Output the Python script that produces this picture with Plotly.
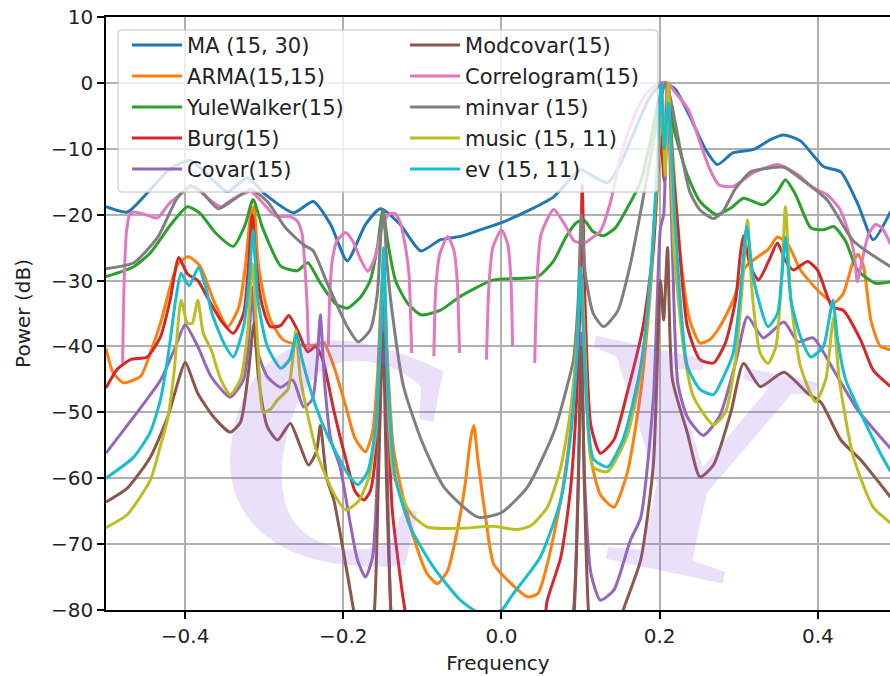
import plotly.graph_objects as go

# ---- spectral estimates: (normalised frequency, power in dB) ----
ma_spec = [(-0.500, -18.8), (-0.473, -19.6), (-0.444, -16.2), (-0.418, -12.9), (-0.393, -11.8),
           (-0.368, -14.4), (-0.346, -16.5), (-0.321, -14.4), (-0.298, -17.0), (-0.263, -19.7),
           (-0.238, -18.0), (-0.216, -21.5), (-0.195, -27.0), (-0.172, -21.5), (-0.153, -19.1),
           (-0.128, -21.5), (-0.102, -25.5), (-0.077, -23.8), (-0.052, -23.3), (-0.027, -22.3),
           (0.000, -21.2), (0.037, -19.2), (0.066, -17.3), (0.100, -13.2), (0.119, -14.4),
           (0.134, -15.2), (0.150, -12.4), (0.169, -7.1), (0.186, -2.5), (0.198, -0.6),
           (0.207, 0.0), (0.220, -1.0), (0.239, -5.3), (0.258, -10.1), (0.273, -12.4),
           (0.293, -10.6), (0.319, -10.1), (0.340, -8.6), (0.357, -7.9), (0.378, -8.8),
           (0.407, -12.7), (0.429, -13.5), (0.451, -18.5), (0.470, -23.8), (0.492, -19.5)]

arma_spec = [(-0.500, -40.3), (-0.491, -44.0), (-0.478, -45.5), (-0.456, -44.5), (-0.444, -41.0),
             (-0.430, -36.0), (-0.419, -31.0), (-0.409, -27.5), (-0.396, -26.4), (-0.381, -27.8),
             (-0.364, -33.0), (-0.346, -37.0), (-0.332, -34.0), (-0.324, -28.0), (-0.317, -20.0),
             (-0.313, -18.8), (-0.308, -27.0), (-0.301, -32.0), (-0.292, -36.0), (-0.276, -39.0),
             (-0.254, -39.8), (-0.235, -39.8), (-0.225, -39.4), (-0.212, -43.0), (-0.197, -49.0),
             (-0.185, -54.0), (-0.172, -56.0), (-0.163, -53.0), (-0.157, -45.0), (-0.152, -32.0),
             (-0.149, -28.0), (-0.145, -40.0), (-0.137, -55.0), (-0.128, -61.0), (-0.111, -69.0),
             (-0.094, -74.5), (-0.081, -76.0), (-0.068, -74.0), (-0.056, -68.0), (-0.046, -61.0),
             (-0.039, -54.0), (-0.035, -52.0), (-0.030, -57.0), (-0.020, -66.0), (-0.010, -73.0),
             (0.008, -75.5), (0.033, -78.0), (0.046, -77.5), (0.058, -73.0), (0.075, -63.3),
             (0.088, -52.0), (0.095, -42.0), (0.101, -30.0), (0.106, -45.0), (0.113, -57.0),
             (0.125, -62.5), (0.142, -64.4), (0.159, -59.2), (0.176, -47.0), (0.188, -32.0),
             (0.196, -18.0), (0.201, -4.0), (0.205, -10.0), (0.210, 0.0), (0.216, -10.0),
             (0.226, -26.0), (0.238, -36.0), (0.251, -39.5), (0.263, -39.0), (0.276, -37.0),
             (0.293, -33.0), (0.308, -28.0), (0.324, -26.4), (0.337, -25.3), (0.349, -23.4),
             (0.362, -24.5), (0.378, -28.4), (0.400, -31.5), (0.420, -33.4), (0.432, -32.0),
             (0.445, -27.0), (0.451, -26.0), (0.458, -28.0), (0.467, -36.0), (0.479, -40.0),
             (0.492, -40.5)]

yule_spec = [(-0.500, -29.4), (-0.465, -27.9), (-0.444, -25.8), (-0.418, -21.5), (-0.397, -18.8),
             (-0.381, -19.8), (-0.362, -22.7), (-0.339, -24.8), (-0.324, -21.5), (-0.314, -17.7),
             (-0.302, -22.0), (-0.279, -27.8), (-0.258, -28.5), (-0.245, -27.3), (-0.229, -30.4),
             (-0.210, -33.5), (-0.195, -34.2), (-0.178, -32.5), (-0.166, -30.0), (-0.157, -25.0),
             (-0.150, -19.3), (-0.144, -24.0), (-0.134, -30.0), (-0.119, -33.4), (-0.102, -35.2),
             (-0.077, -34.5), (-0.052, -32.4), (-0.010, -29.9), (0.046, -29.4), (0.066, -27.0),
             (0.081, -23.5), (0.094, -21.3), (0.104, -20.8), (0.116, -22.6), (0.129, -23.2),
             (0.144, -22.0), (0.159, -19.0), (0.176, -15.0), (0.188, -9.0), (0.198, -3.0),
             (0.207, 0.0), (0.218, -7.0), (0.235, -14.0), (0.251, -18.0), (0.272, -20.0),
             (0.290, -19.0), (0.306, -17.5), (0.331, -18.5), (0.349, -16.5), (0.359, -14.7),
             (0.372, -17.0), (0.391, -22.0), (0.407, -22.3), (0.420, -21.8), (0.435, -24.0),
             (0.450, -28.4), (0.473, -30.4), (0.492, -30.2)]

burg_spec = [(-0.500, -46.3), (-0.486, -43.5), (-0.469, -42.0), (-0.448, -41.6), (-0.431, -38.5),
             (-0.419, -33.0), (-0.408, -26.5), (-0.397, -29.0), (-0.384, -30.0), (-0.372, -32.5),
             (-0.355, -36.0), (-0.339, -38.0), (-0.326, -35.0), (-0.320, -28.0), (-0.315, -20.0),
             (-0.310, -28.0), (-0.302, -34.0), (-0.292, -37.0), (-0.279, -36.8), (-0.269, -35.3),
             (-0.258, -37.5), (-0.245, -40.8), (-0.235, -40.0), (-0.226, -42.0), (-0.212, -49.7),
             (-0.197, -57.0), (-0.185, -62.0), (-0.174, -63.3), (-0.166, -62.0), (-0.158, -55.0),
             (-0.153, -40.0), (-0.149, -28.0), (-0.145, -45.0), (-0.138, -65.0), (-0.128, -75.0),
             (-0.124, -78.5), (-0.112, -85.0), (-0.027, -95.0), (0.049, -85.0), (0.058, -78.5),
             (0.075, -72.0), (0.087, -62.0), (0.095, -48.0), (0.100, -30.0), (0.102, -15.5),
             (0.106, -35.0), (0.113, -52.0), (0.125, -56.2), (0.142, -54.2), (0.159, -47.0),
             (0.179, -37.0), (0.192, -25.0), (0.201, -8.0), (0.206, -15.0), (0.211, 0.0),
             (0.216, -12.0), (0.223, -22.0), (0.235, -37.0), (0.251, -42.0), (0.268, -42.5),
             (0.283, -39.5), (0.296, -33.0), (0.302, -26.0), (0.306, -23.2), (0.315, -28.0),
             (0.325, -29.9), (0.338, -27.0), (0.349, -24.3), (0.359, -27.0), (0.369, -28.4),
             (0.387, -27.1), (0.400, -28.5), (0.418, -34.0), (0.432, -34.5), (0.454, -39.0),
             (0.470, -43.6), (0.492, -46.1)]

covar_spec = [(-0.500, -56.2), (-0.465, -50.7), (-0.431, -45.1), (-0.412, -40.0), (-0.400, -36.7),
              (-0.384, -40.0), (-0.367, -44.6), (-0.343, -47.7), (-0.326, -45.0), (-0.319, -38.0),
              (-0.315, -31.0), (-0.310, -40.0), (-0.296, -44.6), (-0.279, -46.2), (-0.264, -45.1),
              (-0.250, -49.2), (-0.239, -48.0), (-0.233, -42.0), (-0.229, -35.2), (-0.224, -45.0),
              (-0.216, -54.0), (-0.204, -58.3), (-0.191, -67.0), (-0.182, -72.4), (-0.172, -75.0),
              (-0.163, -72.0), (-0.157, -60.0), (-0.152, -42.0), (-0.149, -30.0), (-0.145, -55.0),
              (-0.140, -80.0), (-0.134, -90.0), (0.075, -90.0), (0.091, -80.0), (0.097, -60.0),
              (0.101, -38.0), (0.105, -60.0), (0.113, -74.4), (0.125, -78.5), (0.142, -77.0),
              (0.163, -69.4), (0.176, -66.0), (0.192, -48.0), (0.201, -22.0), (0.205, -20.0),
              (0.210, 0.0), (0.216, -25.0), (0.223, -45.6), (0.235, -50.7), (0.255, -53.5),
              (0.276, -50.5), (0.297, -42.0), (0.311, -35.5), (0.331, -38.7), (0.357, -36.3),
              (0.375, -39.3), (0.394, -38.7), (0.420, -43.6), (0.450, -49.6), (0.492, -55.5)]

modcovar_spec = [(-0.500, -63.6), (-0.473, -61.5), (-0.444, -56.8), (-0.422, -50.7), (-0.408, -45.0),
                 (-0.400, -42.4), (-0.384, -47.1), (-0.364, -50.7), (-0.343, -53.0), (-0.330, -51.5),
                 (-0.320, -44.0), (-0.313, -36.5), (-0.307, -45.0), (-0.296, -52.2), (-0.283, -54.2),
                 (-0.267, -51.7), (-0.254, -55.3), (-0.244, -58.0), (-0.234, -56.0), (-0.229, -52.0),
                 (-0.221, -60.0), (-0.212, -63.3), (-0.200, -71.0), (-0.187, -80.0), (-0.176, -88.0),
                 (-0.162, -82.0), (-0.156, -62.0), (-0.150, -38.0), (-0.145, -62.0), (-0.139, -82.0),
                 (-0.128, -95.0), (0.075, -95.0), (0.091, -82.0), (0.097, -62.0), (0.101, -40.0),
                 (0.105, -62.0), (0.111, -82.0), (0.125, -92.0), (0.154, -80.0), (0.176, -72.4),
                 (0.192, -58.0), (0.201, -30.0), (0.205, -36.0), (0.210, -25.0), (0.216, -45.0),
                 (0.235, -53.1), (0.251, -59.8), (0.268, -58.0), (0.290, -50.0), (0.306, -42.6),
                 (0.327, -46.1), (0.357, -43.9), (0.387, -47.1), (0.404, -48.5), (0.429, -54.2),
                 (0.454, -57.2), (0.492, -62.9)]

# the correlogram goes negative between its nulls; those stretches have no dB value
correlogram_spec = [(-0.479, -42.5), (-0.477, -30.0), (-0.474, -22.5), (-0.470, -20.0), (-0.465, -19.6),
                    (-0.450, -20.0), (-0.435, -20.5), (-0.420, -18.3), (-0.410, -17.3), (-0.393, -15.8),
                    (-0.381, -16.5), (-0.368, -17.8), (-0.355, -18.8), (-0.342, -17.8), (-0.330, -17.0),
                    (-0.317, -16.5), (-0.305, -17.8), (-0.296, -19.0), (-0.286, -20.2), (-0.267, -20.3),
                    (-0.258, -21.0), (-0.252, -23.0), (-0.249, -27.0), (-0.246, -33.0), (-0.244, -40.5),
                    (-0.232, None),
                    (-0.219, -40.0), (-0.217, -32.0), (-0.214, -27.0), (-0.208, -24.0), (-0.197, -22.7),
                    (-0.188, -24.0), (-0.178, -26.8), (-0.169, -28.6), (-0.160, -26.5), (-0.152, -22.5),
                    (-0.143, -20.0), (-0.135, -19.8), (-0.128, -21.2), (-0.122, -24.5), (-0.117, -29.0),
                    (-0.1135, -41.0),
                    (-0.100, None),
                    (-0.0855, -41.5), (-0.083, -31.0), (-0.078, -26.0), (-0.068, -23.3), (-0.060, -25.5),
                    (-0.056, -30.0), (-0.053, -41.0),
                    (-0.036, None),
                    (-0.019, -42.0), (-0.016, -31.0), (-0.011, -25.0), (0.000, -22.3), (0.008, -24.5),
                    (0.012, -30.0), (0.014, -40.0),
                    (0.028, None),
                    (0.042, -42.5), (0.045, -30.0), (0.050, -23.0), (0.066, -19.2), (0.080, -21.5),
                    (0.092, -24.0), (0.105, -24.3), (0.117, -23.3), (0.125, -22.5), (0.138, -18.0),
                    (0.150, -11.5), (0.163, -6.5), (0.176, -3.0), (0.188, -1.0), (0.201, 0.0),
                    (0.210, 0.0), (0.220, -1.5), (0.236, -4.0), (0.251, -9.0), (0.263, -13.0),
                    (0.275, -15.5), (0.293, -15.7), (0.319, -13.6), (0.349, -12.4), (0.362, -13.0),
                    (0.378, -14.2), (0.391, -15.7), (0.412, -17.0), (0.427, -19.0), (0.437, -22.0),
                    (0.446, -26.0), (0.450, -30.2), (0.455, -27.5), (0.464, -23.0), (0.473, -21.5),
                    (0.481, -22.0), (0.492, -24.5)]

minvar_spec = [(-0.500, -28.2), (-0.465, -27.3), (-0.435, -23.5), (-0.410, -17.5), (-0.393, -15.6),
               (-0.381, -16.3), (-0.358, -19.1), (-0.336, -17.5), (-0.317, -16.2), (-0.296, -18.0),
               (-0.273, -22.0), (-0.250, -24.6), (-0.238, -25.5), (-0.220, -30.5), (-0.195, -37.0),
               (-0.181, -39.3), (-0.166, -37.5), (-0.157, -32.0), (-0.152, -22.0), (-0.149, -19.5),
               (-0.145, -27.0), (-0.138, -35.0), (-0.124, -46.0), (-0.102, -54.0), (-0.073, -61.3),
               (-0.030, -65.9), (0.000, -65.2), (0.033, -61.3), (0.066, -53.1), (0.082, -46.5),
               (0.091, -42.0), (0.097, -33.0), (0.101, -20.0), (0.106, -29.0), (0.116, -35.0),
               (0.129, -37.0), (0.147, -34.6), (0.163, -27.5), (0.176, -19.5), (0.188, -11.7),
               (0.198, -5.0), (0.207, 0.0), (0.213, -2.0), (0.226, -10.0), (0.238, -16.5),
               (0.251, -19.3), (0.268, -20.6), (0.280, -19.5), (0.296, -16.0), (0.315, -13.5),
               (0.334, -13.0), (0.357, -12.8), (0.378, -14.5), (0.412, -17.8), (0.445, -24.0),
               (0.492, -27.9)]

music_spec = [(-0.500, -67.5), (-0.473, -65.5), (-0.444, -60.3), (-0.431, -55.0), (-0.422, -51.0),
              (-0.414, -44.0), (-0.405, -33.0), (-0.397, -36.5), (-0.391, -36.5), (-0.384, -33.0),
              (-0.377, -38.0), (-0.367, -40.5), (-0.355, -45.0), (-0.343, -47.3), (-0.330, -45.0),
              (-0.321, -38.0), (-0.315, -27.5), (-0.308, -40.0), (-0.301, -50.0), (-0.292, -49.5),
              (-0.283, -48.1), (-0.270, -46.5), (-0.264, -42.0), (-0.260, -37.5), (-0.254, -45.0),
              (-0.233, -56.3), (-0.212, -62.3), (-0.197, -64.8), (-0.181, -63.5), (-0.168, -60.0),
              (-0.159, -53.0), (-0.153, -38.0), (-0.149, -27.0), (-0.145, -40.0), (-0.137, -59.2),
              (-0.115, -65.3), (-0.094, -67.4), (-0.052, -67.6), (-0.010, -67.3), (0.020, -67.8),
              (0.037, -67.2), (0.058, -64.4), (0.075, -58.3), (0.087, -50.0), (0.095, -40.0),
              (0.101, -29.0), (0.106, -42.0), (0.116, -58.3), (0.134, -59.0), (0.159, -53.5),
              (0.176, -44.0), (0.188, -30.0), (0.198, -12.0), (0.203, -2.0), (0.207, -14.0),
              (0.211, 0.0), (0.218, -25.0), (0.231, -41.0), (0.243, -47.7), (0.268, -51.9),
              (0.283, -50.0), (0.296, -42.0), (0.305, -30.0), (0.311, -20.8), (0.317, -32.0),
              (0.327, -41.0), (0.337, -42.6), (0.347, -40.0), (0.354, -30.0), (0.359, -18.8),
              (0.366, -33.0), (0.378, -43.0), (0.397, -48.4), (0.410, -45.0), (0.417, -38.0),
              (0.420, -35.5), (0.427, -45.0), (0.445, -56.8), (0.470, -64.4), (0.492, -66.8)]

ev_spec = [(-0.500, -60.0), (-0.465, -56.8), (-0.444, -53.0), (-0.431, -48.0), (-0.421, -41.0),
           (-0.412, -33.0), (-0.405, -28.9), (-0.395, -30.8), (-0.383, -28.0), (-0.374, -31.0),
           (-0.366, -35.0), (-0.351, -39.5), (-0.339, -41.6), (-0.326, -37.0), (-0.319, -30.0),
           (-0.314, -22.3), (-0.308, -33.0), (-0.296, -40.0), (-0.279, -43.3), (-0.268, -42.0),
           (-0.259, -38.2), (-0.252, -42.0), (-0.235, -49.0), (-0.220, -53.5), (-0.195, -59.2),
           (-0.182, -61.0), (-0.169, -59.0), (-0.159, -52.0), (-0.153, -38.0), (-0.149, -25.0),
           (-0.144, -45.0), (-0.134, -60.0), (-0.115, -67.5), (-0.086, -73.5), (-0.052, -78.5),
           (-0.027, -80.5), (0.000, -80.0), (0.015, -77.5), (0.049, -72.0), (0.075, -63.3),
           (0.087, -54.0), (0.095, -42.0), (0.100, -28.0), (0.105, -42.0), (0.116, -57.0),
           (0.134, -58.3), (0.154, -54.0), (0.176, -43.0), (0.188, -30.0), (0.197, -12.0),
           (0.202, 0.0), (0.206, -10.0), (0.211, -3.0), (0.218, -18.0), (0.226, -33.0),
           (0.235, -43.0), (0.251, -46.5), (0.268, -47.3), (0.283, -44.0), (0.293, -41.0),
           (0.302, -32.0), (0.310, -21.8), (0.319, -30.0), (0.337, -37.0), (0.349, -35.0),
           (0.354, -30.0), (0.359, -23.4), (0.366, -33.0), (0.378, -38.5), (0.391, -41.6),
           (0.407, -40.0), (0.414, -36.0), (0.419, -33.0), (0.425, -39.0), (0.435, -45.0),
           (0.454, -50.1), (0.479, -56.2), (0.492, -59.0)]

series_names = ["MA (15, 30)", "ARMA(15,15)", "YuleWalker(15)", "Burg(15)", "Covar(15)",
                "Modcovar(15)", "Correlogram(15)", "minvar (15)", "music (15, 11)", "ev (15, 11)"]
series_data = [ma_spec, arma_spec, yule_spec, burg_spec, covar_spec,
               modcovar_spec, correlogram_spec, minvar_spec, music_spec, ev_spec]
series_colors = ["#1f77b4", "#ff7f0e", "#2ca02c", "#d62728", "#9467bd",
                 "#8c564b", "#e377c2", "#7f7f7f", "#bcbd22", "#17becf"]

x_ticks = [-0.4, -0.2, 0.0, 0.2, 0.4]
y_ticks = [10, 0, -10, -20, -30, -40, -50, -60, -70, -80]

FONT = "DejaVu Sans"
TEXT = "#222222"

fig = go.Figure()
for i, (name, pts, col) in enumerate(zip(series_names, series_data, series_colors)):
    fig.add_trace(go.Scatter(
        x=[p[0] for p in pts], y=[p[1] for p in pts],
        mode="lines", name=name, connectgaps=False,
        line=dict(color=col, width=3, shape="spline", smoothing=0.6),
        legend="legend" if i < 5 else "legend2",
        legendgroup=name,
    ))

# rounded, translucent frame behind both legend columns
L, R, B, T = 0.0153, 0.704, 0.7049, 0.978
rx, ry = 0.006, 0.008
frame = (f"M{L+rx},{T} L{R-rx},{T} Q{R},{T} {R},{T-ry} L{R},{B+ry} Q{R},{B} {R-rx},{B} "
         f"L{L+rx},{B} Q{L},{B} {L},{B+ry} L{L},{T-ry} Q{L},{T} {L+rx},{T} Z")
fig.add_shape(type="path", path=frame, xref="paper", yref="paper", layer="above",
              fillcolor="rgba(255,255,255,0.8)", line=dict(color="rgba(204,204,204,0.8)", width=1.5))

legend_common = dict(yanchor="top", xanchor="left", y=0.9868, bgcolor="rgba(0,0,0,0)",
                     borderwidth=0, traceorder="grouped", tracegroupgap=0.7, itemwidth=50,
                     font=dict(family=FONT, size=21, color=TEXT))

# faint lettering across the plot
for ch, ax_, ay_ in (("C", 0.292, 0.2749), ("Y", 0.738, 0.2496)):
    fig.add_annotation(text=f"<b>{ch}</b>", xref="paper", yref="paper", x=ax_, y=ay_,
                       xanchor="center", yanchor="middle", showarrow=False, textangle=12,
                       font=dict(family="Liberation Serif", size=330, color="rgba(150,100,230,0.2)"))

axis_common = dict(showline=True, linecolor="black", linewidth=1.6, ticks="outside",
                   ticklen=7, tickwidth=1.6, tickcolor="black", showgrid=True,
                   gridcolor="#b0b0b0", gridwidth=1.6, zeroline=False,
                   tickfont=dict(family=FONT, size=20, color=TEXT))

fig.update_layout(
    width=890, height=676,
    margin=dict(l=106, r=0, t=17, b=66),
    paper_bgcolor="white", plot_bgcolor="white",
    font=dict(family=FONT, color=TEXT),
    legend=dict(x=0.0268, **legend_common),
    legend2=dict(x=0.3814, **legend_common),
    xaxis=dict(range=[-0.5, 0.4912], tickvals=x_ticks, tickformat=".1f", mirror=True,
               title=dict(text="Frequency", font=dict(family=FONT, size=20, color=TEXT), standoff=9),
               **axis_common),
    yaxis=dict(range=[-80, 10], tickvals=y_ticks, mirror=False,
               title=dict(text="Power (dB)", font=dict(family=FONT, size=20, color=TEXT), standoff=15),
               **axis_common),
)

fig.write_html("out.html")
